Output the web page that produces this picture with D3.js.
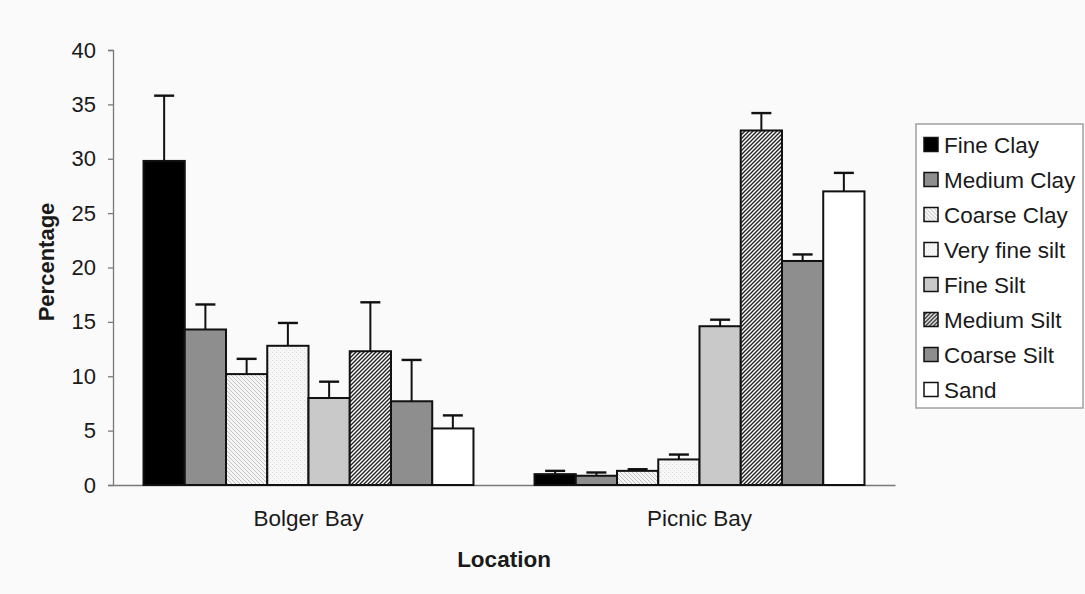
<!DOCTYPE html>
<html>
<head>
<meta charset="utf-8">
<script src="https://cdn.jsdelivr.net/npm/d3@7"></script>
<style>
  html, body { margin: 0; padding: 0; background: #fafafa; }
  svg { display: block; font-family: "Liberation Sans", Arial, sans-serif; }
</style>
</head>
<body>
<svg id="chart" width="1085" height="594"></svg>
<script>
// Sediment grain-size fractions (mean percentage with upper error bar)
const locations = ["Bolger Bay", "Picnic Bay"];
const fractions = ["Fine Clay", "Medium Clay", "Coarse Clay", "Very fine silt",
                   "Fine Silt", "Medium Silt", "Coarse Silt", "Sand"];
const bolgerMeans = [29.8, 14.3, 10.2, 12.8, 8.0, 12.3, 7.7, 5.2];
const bolgerErrors = [6.0, 2.3, 1.4, 2.1, 1.5, 4.5, 3.8, 1.2];
const picnicMeans = [1.0, 0.85, 1.3, 2.35, 14.6, 32.6, 20.6, 27.0];
const picnicErrors = [0.3, 0.3, 0.15, 0.45, 0.6, 1.6, 0.6, 1.7];
const yTicks = [0, 5, 10, 15, 20, 25, 30, 35, 40];

const meansByLocation = [bolgerMeans, picnicMeans];
const errorsByLocation = [bolgerErrors, picnicErrors];

const svg = d3.select("#chart");
const defs = svg.append("defs");

// Fill patterns for the hatched / dotted fractions
const pCoarseClay = defs.append("pattern").attr("id", "pat-coarse-clay")
  .attr("patternUnits", "userSpaceOnUse").attr("width", 4).attr("height", 4);
pCoarseClay.append("rect").attr("width", 4).attr("height", 4).attr("fill", "#f6f6f6");
pCoarseClay.append("path").attr("d", "M-1,-1 L5,5 M-1,3 L1,5 M3,-1 L5,1")
  .attr("stroke", "#c2c2c2").attr("stroke-width", 1);

const pVeryFine = defs.append("pattern").attr("id", "pat-very-fine")
  .attr("patternUnits", "userSpaceOnUse").attr("width", 4).attr("height", 4);
pVeryFine.append("rect").attr("width", 4).attr("height", 4).attr("fill", "#f7f7f7");
pVeryFine.append("rect").attr("x", 0).attr("y", 0).attr("width", 1).attr("height", 1).attr("fill", "#d6d6d6");
pVeryFine.append("rect").attr("x", 2).attr("y", 2).attr("width", 1).attr("height", 1).attr("fill", "#dedede");

const pMedSilt = defs.append("pattern").attr("id", "pat-med-silt")
  .attr("patternUnits", "userSpaceOnUse").attr("width", 4).attr("height", 4);
pMedSilt.append("rect").attr("width", 4).attr("height", 4).attr("fill", "#ffffff");
pMedSilt.append("path").attr("d", "M-1,5 L5,-1 M-1,1 L1,-1 M3,5 L5,3")
  .attr("stroke", "#222").attr("stroke-width", 1.4);

const fills = ["#000000", "#8e8e8e", "url(#pat-coarse-clay)", "url(#pat-very-fine)",
               "#c9c9c9", "url(#pat-med-silt)", "#8e8e8e", "#ffffff"];

const plot = { left: 113, right: 895, top: 50, bottom: 485 };

const x0 = d3.scaleBand().domain(locations).range([plot.left, plot.right])
  .paddingInner(0).paddingOuter(0);
const x1 = d3.scaleBand().domain(fractions).range([0, x0.bandwidth()])
  .paddingInner(0).paddingOuter(0.74);
const y = d3.scaleLinear().domain([0, 40]).range([plot.bottom, plot.top]);

// Y axis
const yAxis = svg.append("g").attr("transform", `translate(${plot.left},0)`)
  .call(d3.axisLeft(y).tickValues(yTicks).tickSize(5).tickPadding(12).tickFormat(d3.format("d")));
yAxis.select(".domain").attr("stroke", "#7a7a7a").attr("stroke-width", 1.3);
yAxis.selectAll(".tick line").attr("stroke", "#7a7a7a").attr("stroke-width", 1.3);
yAxis.selectAll(".tick text").attr("fill", "#1a1a1a").attr("font-size", 22)
  .attr("font-family", "Liberation Sans, Arial, sans-serif");

// X axis (category labels only)
const xAxis = svg.append("g").attr("transform", `translate(0,${plot.bottom})`)
  .call(d3.axisBottom(x0).tickSize(0).tickPadding(25).tickSizeOuter(0));
xAxis.select(".domain").attr("stroke", "#7a7a7a").attr("stroke-width", 1.3);
xAxis.selectAll(".tick text").attr("fill", "#1a1a1a").attr("font-size", 22.5)
  .attr("font-family", "Liberation Sans, Arial, sans-serif");

// Bars and error bars
const rows = [];
locations.forEach((loc, i) => {
  fractions.forEach((f, j) => {
    rows.push({ loc, f, j, mean: meansByLocation[i][j], err: errorsByLocation[i][j] });
  });
});

const bars = svg.append("g");
bars.selectAll("line.err").data(rows).join("line").attr("class", "err")
  .attr("x1", d => x0(d.loc) + x1(d.f) + x1.bandwidth() / 2)
  .attr("x2", d => x0(d.loc) + x1(d.f) + x1.bandwidth() / 2)
  .attr("y1", d => y(d.mean))
  .attr("y2", d => y(d.mean + d.err))
  .attr("stroke", "#111").attr("stroke-width", 2);
bars.selectAll("line.cap").data(rows).join("line").attr("class", "cap")
  .attr("x1", d => x0(d.loc) + x1(d.f) + x1.bandwidth() / 2 - 10)
  .attr("x2", d => x0(d.loc) + x1(d.f) + x1.bandwidth() / 2 + 10)
  .attr("y1", d => y(d.mean + d.err))
  .attr("y2", d => y(d.mean + d.err))
  .attr("stroke", "#111").attr("stroke-width", 2.4);
bars.selectAll("rect").data(rows).join("rect")
  .attr("x", d => x0(d.loc) + x1(d.f))
  .attr("y", d => y(d.mean))
  .attr("width", x1.bandwidth())
  .attr("height", d => y(0) - y(d.mean))
  .attr("fill", d => fills[d.j])
  .attr("stroke", "#111").attr("stroke-width", 2);

// Axis titles
svg.append("text").attr("x", (plot.left + plot.right) / 2).attr("y", 567)
  .attr("text-anchor", "middle").attr("font-size", 22.5).attr("font-weight", "bold")
  .attr("fill", "#1a1a1a").text("Location");
svg.append("text").attr("transform", `translate(54,262) rotate(-90)`)
  .attr("text-anchor", "middle").attr("font-size", 22).attr("font-weight", "bold")
  .attr("fill", "#1a1a1a").text("Percentage");

// Legend
const legend = svg.append("g");
legend.append("rect").attr("x", 916).attr("y", 124).attr("width", 167).attr("height", 284)
  .attr("fill", "#ffffff").attr("stroke", "#a0a0a0").attr("stroke-width", 1.5);
const items = legend.selectAll("g.item").data(fractions).join("g").attr("class", "item")
  .attr("transform", (d, i) => `translate(0,${144.5 + i * 35})`);
items.append("rect").attr("x", 924).attr("y", -7).attr("width", 14).attr("height", 14)
  .attr("fill", (d, i) => fills[i]).attr("stroke", "#111").attr("stroke-width", 1.5);
items.append("text").attr("x", 944).attr("y", 8).attr("font-size", 22.5)
  .attr("fill", "#1a1a1a").text(d => d);
</script>
</body>
</html>
